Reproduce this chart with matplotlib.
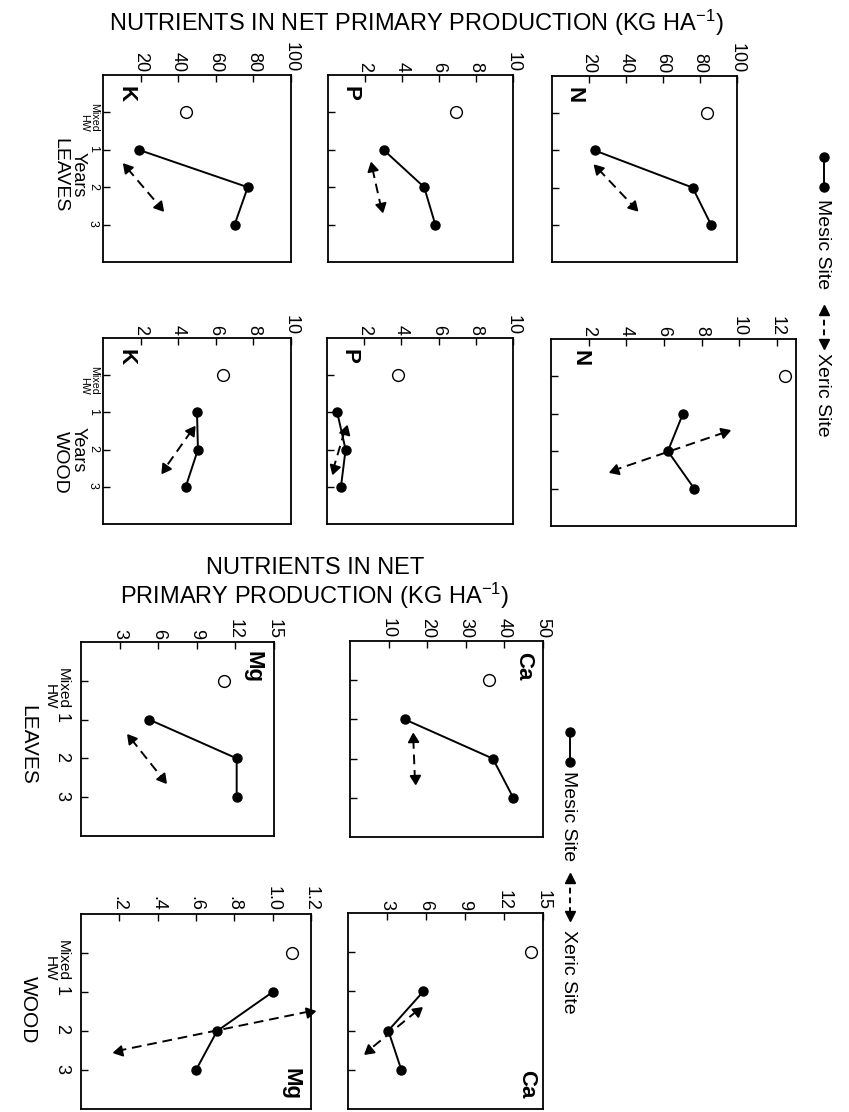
import numpy as np
import matplotlib
matplotlib.use('Agg')
import matplotlib.pyplot as plt
from matplotlib.lines import Line2D

plt.rcParams['font.family'] = ['Liberation Sans', 'DejaVu Sans']
plt.rcParams['mathtext.default'] = 'regular'

# years on the category axis
mixed_year = [0]
mesic_years = [1, 2, 3]
xeric_years = [1.5, 2.5]
year_ticks = [0, 1, 2, 3]
year_labels = ['Mixed\nHW', '1', '2', '3']

# nutrients in leaves (kg/ha)
n_leaves_mixed = [84]
n_leaves_mesic = [23, 76, 86]
n_leaves_xeric = [25, 44]
p_leaves_mixed = [6.9]
p_leaves_mesic = [3.0, 5.2, 5.8]
p_leaves_xeric = [2.4, 2.85]
k_leaves_mixed = [44]
k_leaves_mesic = [19, 77, 70]
k_leaves_xeric = [13, 30]
ca_leaves_mixed = [36]
ca_leaves_mesic = [14.2, 37, 42.3]
ca_leaves_xeric = [16.4, 16.8]
mg_leaves_mixed = [11.1]
mg_leaves_mesic = [5.3, 12.1, 12.1]
mg_leaves_xeric = [3.9, 6.3]

# nutrients in wood (kg/ha)
n_wood_mixed = [12.4]
n_wood_mesic = [7.0, 6.2, 7.6]
n_wood_xeric = [9.2, 3.4]
p_wood_mixed = [3.8]
p_wood_mesic = [0.55, 1.0, 0.75]
p_wood_xeric = [0.95, 0.35]
k_wood_mixed = [6.4]
k_wood_mesic = [5.0, 5.05, 4.4]
k_wood_xeric = [4.7, 3.3]
ca_wood_mixed = [14.1]
ca_wood_mesic = [5.8, 3.1, 4.1]
ca_wood_xeric = [5.3, 1.6]
mg_wood_mixed = [1.10]
mg_wood_mesic = [1.00, 0.71, 0.60]
mg_wood_xeric = [1.19, 0.20]

# value axis ticks
ticks_100 = [20, 40, 60, 80, 100]
ticks_10 = [2, 4, 6, 8, 10]
ticks_12 = [2, 4, 6, 8, 10, 12]
ticks_15 = [3, 6, 9, 12, 15]
ticks_50 = [10, 20, 30, 40, 50]
ticks_mg_wood = [0.2, 0.4, 0.6, 0.8, 1.0, 1.2]
labels_mg_wood = ['.2', '.4', '.6', '.8', '1.0', '1.2']

W, H = 849, 1112
fig = plt.figure(figsize=(W / 100, H / 100), dpi=100)


def fx(x):
    return x / W


def fy(y):
    return 1 - y / H


def panel(box, xmax, ticks, mixed, mesic, xeric, letter, letter_xy,
          tick_labels=None, year_size=None, ypad=3):
    x0, y0, x1, y1 = box
    ax = fig.add_axes([fx(x0), fy(y1), (x1 - x0) / W, (y1 - y0) / H])
    ax.set_xlim(0, xmax)
    ax.set_ylim(4, -1)
    ax.xaxis.tick_top()
    ax.set_xticks(ticks)
    if tick_labels is None:
        tick_labels = [str(t) for t in ticks]
    ax.set_xticklabels(tick_labels, rotation=270)
    ax.set_yticks(year_ticks)
    if year_size:
        ax.set_yticklabels(year_labels, rotation=270, fontsize=year_size,
                           linespacing=0.95)
        ax.get_yticklabels()[0].set_fontsize(year_size * 0.85)
    else:
        ax.set_yticklabels([])
    ax.tick_params(axis='x', direction='in', length=5, width=1,
                   labelsize=13, pad=2)
    ax.tick_params(axis='y', direction='in', length=5, width=1, pad=ypad)
    for s in ax.spines.values():
        s.set_linewidth(1.3)

    ax.plot(mixed, mixed_year, 'o', ms=8.5, mfc='white', mec='k', mew=1)
    ax.plot(mesic, mesic_years, '-o', color='k', lw=1.4, ms=6.5)
    ax.plot(xeric, xeric_years, color='k', lw=1.4, ls=(0, (5, 3)))
    pts = ax.transData.transform(np.column_stack([xeric, xeric_years]))
    for i, j in [(0, 1), (1, 0)]:
        dx, dy = pts[i] - pts[j]
        ang = np.degrees(np.arctan2(dy, dx))
        ax.plot(xeric[i], xeric_years[i], marker=(3, 0, ang - 90), ms=8.5,
                color='k', clip_on=False)
    ax.text(letter_xy[0], letter_xy[1], letter, transform=ax.transAxes,
            rotation=270, fontsize=16, fontweight='bold',
            ha='center', va='center')
    return ax


# upper block: N, P, K
panel((103, 75, 291, 262), 100, ticks_100, k_leaves_mixed, k_leaves_mesic,
      k_leaves_xeric, 'K', (0.12, 0.9), year_size=9)
panel((328, 75, 513, 262), 10, ticks_10, p_leaves_mixed, p_leaves_mesic,
      p_leaves_xeric, 'P', (0.12, 0.9))
panel((552, 76, 737, 262), 100, ticks_100, n_leaves_mixed, n_leaves_mesic,
      n_leaves_xeric, 'N', (0.12, 0.9))
panel((103, 338, 291, 524), 10, ticks_10, k_wood_mixed, k_wood_mesic,
      k_wood_xeric, 'K', (0.12, 0.9), year_size=9)
panel((327, 338, 513, 524), 10, ticks_10, p_wood_mixed, p_wood_mesic,
      p_wood_xeric, 'P', (0.12, 0.9))
panel((551, 339, 796, 526), 13, ticks_12, n_wood_mixed, n_wood_mesic,
      n_wood_xeric, 'N', (0.12, 0.9))

# lower block: Mg, Ca
panel((81, 642, 274, 836), 15, ticks_15, mg_leaves_mixed, mg_leaves_mesic,
      mg_leaves_xeric, 'Mg', (0.89, 0.87), year_size=13, ypad=8)
panel((350, 641, 543, 837), 50, ticks_50, ca_leaves_mixed, ca_leaves_mesic,
      ca_leaves_xeric, 'Ca', (0.9, 0.87))
panel((81, 914, 311, 1109), 1.2, ticks_mg_wood, mg_wood_mixed, mg_wood_mesic,
      mg_wood_xeric, 'Mg', (0.915, 0.13), tick_labels=labels_mg_wood,
      year_size=13, ypad=8)
panel((348, 913, 543, 1109), 15, ticks_15, ca_wood_mixed, ca_wood_mesic,
      ca_wood_xeric, 'Ca', (0.915, 0.125))

# titles
fig.text(fx(416), fy(23), 'NUTRIENTS IN NET PRIMARY PRODUCTION (KG HA$^{-1}$)',
         ha='center', va='center', fontsize=17)
fig.text(fx(315), fy(584), 'NUTRIENTS IN NET\nPRIMARY PRODUCTION (KG HA$^{-1}$)',
         ha='center', va='center', fontsize=17, linespacing=1.1)

# row labels
fig.text(fx(78), fy(175), 'Years', rotation=270, ha='center',
         va='center', fontsize=13)
fig.text(fx(60), fy(175), 'LEAVES', rotation=270, ha='center',
         va='center', fontsize=14)
fig.text(fx(78), fy(450), 'Years', rotation=270, ha='center',
         va='center', fontsize=13)
fig.text(fx(60), fy(462), 'WOOD', rotation=270, ha='center',
         va='center', fontsize=14)
fig.text(fx(28), fy(745), 'LEAVES', rotation=270, ha='center',
         va='center', fontsize=15)
fig.text(fx(28), fy(1010), 'WOOD', rotation=270, ha='center',
         va='center', fontsize=15)


def legend(x, y_mesic, y_mtext, y_xeric, y_xtext):
    fig.add_artist(Line2D([fx(x), fx(x)], [fy(y_mesic[0]), fy(y_mesic[1])],
                          transform=fig.transFigure, color='k', lw=1.4,
                          marker='o', ms=6.5))
    fig.text(fx(x - 2), fy(y_mtext), 'Mesic Site', rotation=270,
             ha='center', va='center', fontsize=14)
    fig.add_artist(Line2D([fx(x), fx(x)], [fy(y_xeric[0]), fy(y_xeric[1])],
                          transform=fig.transFigure, color='k', lw=1.4,
                          ls=(0, (3, 2))))
    fig.add_artist(Line2D([fx(x)], [fy(y_xeric[0])], transform=fig.transFigure,
                          marker='^', ms=7, color='k'))
    fig.add_artist(Line2D([fx(x)], [fy(y_xeric[1])], transform=fig.transFigure,
                          marker='v', ms=7, color='k'))
    fig.text(fx(x - 2), fy(y_xtext), 'Xeric Site', rotation=270,
             ha='center', va='center', fontsize=14)


legend(824, (157, 187), 244, (310, 344), 395)
legend(570, (732, 762), 816, (878, 916), 972)

fig.savefig('out.png', dpi=100)
